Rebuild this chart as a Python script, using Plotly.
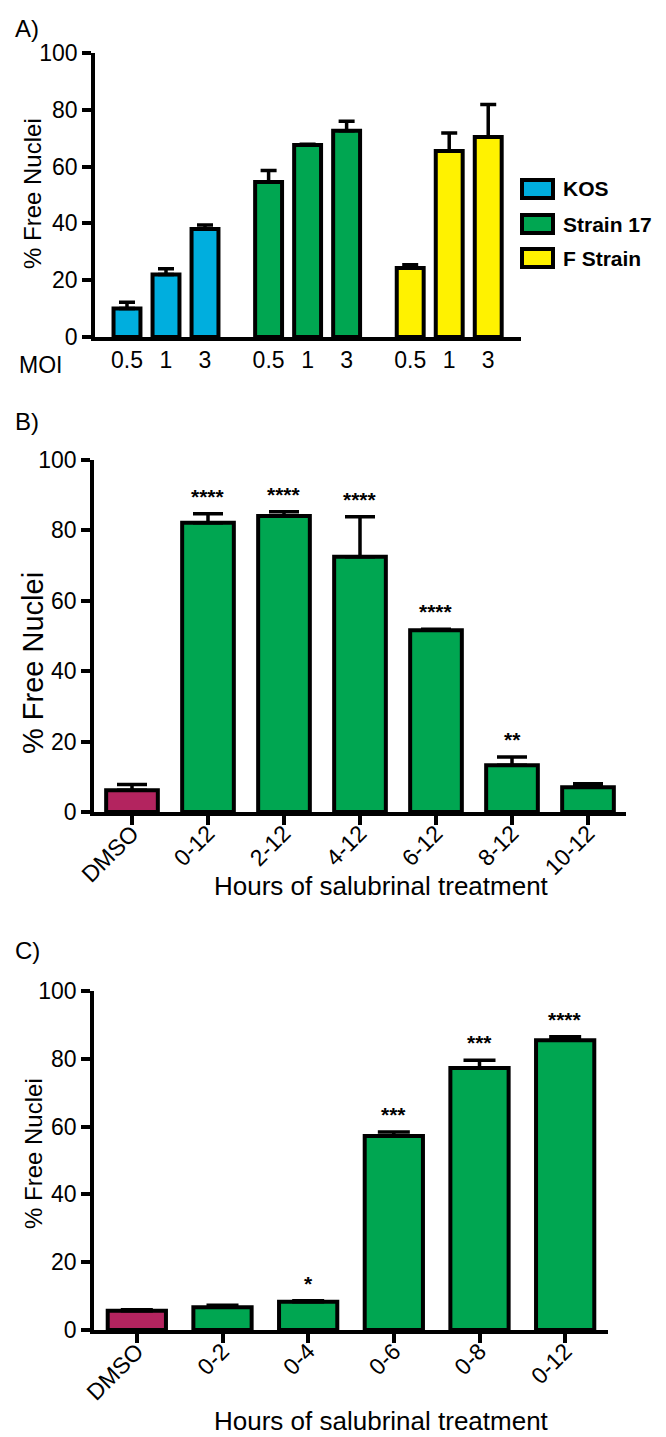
import plotly.graph_objects as go

W, H = 666, 1437
FONT = "Liberation Sans, Arial, Helvetica, sans-serif"

# ---------------- Panel A data ----------------
moi_labels = ["0.5", "1", "3"]
strain_names = ["KOS", "Strain 17", "F Strain"]
strain_colors = ["#00AEDE", "#00A651", "#FFF200"]
kos_mean = [10.0, 22.0, 38.0]
kos_err = [2.2, 2.0, 1.4]
s17_mean = [54.6, 67.6, 72.6]
s17_err = [4.0, 0.3, 3.4]
f_mean = [24.3, 65.5, 70.4]
f_err = [1.1, 6.3, 11.5]

# ---------------- Panel B data ----------------
b_categories = ["DMSO", "0-12", "2-12", "4-12", "6-12", "8-12", "10-12"]
b_mean = [6.2, 82.2, 84.1, 72.5, 51.6, 13.3, 7.0]
b_err = [1.6, 2.5, 1.2, 11.4, 0.3, 2.3, 1.0]
b_stars = ["", "****", "****", "****", "****", "**", ""]

# ---------------- Panel C data ----------------
c_categories = ["DMSO", "0-2", "0-4", "0-6", "0-8", "0-12"]
c_mean = [5.7, 6.7, 8.3, 57.2, 77.3, 85.5]
c_err = [0.3, 0.6, 0.3, 1.2, 2.3, 1.0]
c_stars = ["", "", "*", "***", "***", "****"]

dmso_color = "#B3245F"
green = "#00A651"

y_ticks = [0, 20, 40, 60, 80, 100]


def px_x(p):
    return p / W


def px_y(p):
    return 1 - p / H


fig = go.Figure()

# Panel A bars
group_gap = 3.63
a_means = [kos_mean, s17_mean, f_mean]
a_errs = [kos_err, s17_err, f_err]
a_tickvals, a_ticktext = [], []
for g, (name, col, m, e) in enumerate(zip(strain_names, strain_colors, a_means, a_errs)):
    xs = [g * group_gap + i for i in range(len(moi_labels))]
    a_tickvals += xs
    a_ticktext += moi_labels
    fig.add_trace(go.Bar(
        x=xs, y=m, name=name, xaxis="x", yaxis="y",
        width=0.69,
        marker=dict(color=col, line=dict(color="black", width=4)),
        error_y=dict(type="data", array=e, arrayminus=[0] * len(e), symmetric=False,
                     color="black", thickness=3.5, width=8),
        showlegend=False,
    ))

# Panel B bars
fig.add_trace(go.Bar(
    x=b_categories, y=b_mean, xaxis="x2", yaxis="y2", width=0.68,
    marker=dict(color=[dmso_color] + [green] * (len(b_categories) - 1),
                line=dict(color="black", width=4)),
    error_y=dict(type="data", array=b_err, arrayminus=[0] * len(b_err), symmetric=False,
                 color="black", thickness=3.5, width=15),
    showlegend=False,
))

# Panel C bars
fig.add_trace(go.Bar(
    x=c_categories, y=c_mean, xaxis="x3", yaxis="y3", width=0.68,
    marker=dict(color=[dmso_color] + [green] * (len(c_categories) - 1),
                line=dict(color="black", width=4)),
    error_y=dict(type="data", array=c_err, arrayminus=[0] * len(c_err), symmetric=False,
                 color="black", thickness=3.5, width=16),
    showlegend=False,
))

ann = []
star_font = dict(size=21, color="black", family=FONT)
# stars
for cat, m, e, s in zip(b_categories, b_mean, b_err, b_stars):
    if s:
        ann.append(dict(x=cat, y=m + e, xref="x2", yref="y2", text="<b>%s</b>" % s, showarrow=False,
                        yanchor="bottom", yshift=4, font=star_font))
for cat, m, e, s in zip(c_categories, c_mean, c_err, c_stars):
    if s:
        ann.append(dict(x=cat, y=m + e, xref="x3", yref="y3", text="<b>%s</b>" % s, showarrow=False,
                        yanchor="bottom", yshift=4, font=star_font))

# panel labels
for lab, yc in [("A)", 20), ("B)", 414), ("C)", 942)]:
    ann.append(dict(x=px_x(5), y=px_y(yc), xref="paper", yref="paper", text=lab, showarrow=False,
                    xanchor="left", yanchor="middle", font=dict(size=24, color="black", family=FONT)))

# y titles
for yc, fs in [(186, 24), (655, 29), (1146, 24)]:
    ann.append(dict(x=px_x(25), y=px_y(yc), xref="paper", yref="paper", text="% Free Nuclei",
                    showarrow=False, textangle=-90, xanchor="center", yanchor="middle",
                    font=dict(size=fs, color="black", family=FONT)))

# x titles
for yc in [878, 1413]:
    ann.append(dict(x=px_x(373), y=px_y(yc), xref="paper", yref="paper",
                    text="Hours of salubrinal treatment", showarrow=False,
                    xanchor="center", yanchor="middle",
                    font=dict(size=26, color="black", family=FONT)))

# MOI label
ann.append(dict(x=px_x(9), y=px_y(357), xref="paper", yref="paper", text="MOI", showarrow=False,
                xanchor="left", yanchor="middle", font=dict(size=23, color="black", family=FONT)))

# legend (panel A)
shapes = []
leg_rows = [181, 216, 250]
for name, col, yc in zip(strain_names, strain_colors, leg_rows):
    shapes.append(dict(type="rect", xref="paper", yref="paper",
                       x0=px_x(514), x1=px_x(545), y0=px_y(yc + 9), y1=px_y(yc - 9),
                       fillcolor=col, line=dict(color="black", width=4)))
    ann.append(dict(x=px_x(553), y=px_y(yc), xref="paper", yref="paper", text="<b>%s</b>" % name,
                    showarrow=False, xanchor="left", yanchor="middle",
                    font=dict(size=21, color="black", family=FONT)))

axis_common = dict(showgrid=False, zeroline=False, showline=True, linecolor="black", linewidth=3.5,
                   automargin=False, tickfont=dict(size=23, color="black", family=FONT))
yaxis_common = dict(axis_common, range=[0, 100], tickvals=y_ticks, ticks="outside", ticklen=9,
                    tickwidth=3.5, tickcolor="black", fixedrange=True)

fig.update_layout(
    width=W, height=H, autosize=False,
    margin=dict(l=0, r=0, t=0, b=0),
    paper_bgcolor="white", plot_bgcolor="white",
    font=dict(family=FONT, color="black"),
    barmode="overlay",
    xaxis=dict(axis_common, domain=[px_x(87), px_x(513)], range=[-0.82, 10.1],
               tickvals=a_tickvals, ticktext=a_ticktext, ticks="", ticklabelstandoff=0,
               anchor="y"),
    yaxis=dict(yaxis_common, domain=[px_y(329), px_y(45)], anchor="x"),
    xaxis2=dict(axis_common, domain=[px_x(86), px_x(618)], range=[-0.5, 6.5],
                type="category", tickangle=-45, ticks="outside", ticklen=9, tickwidth=3.5,
                tickcolor="black", ticklabelstandoff=-14, anchor="y2"),
    yaxis2=dict(yaxis_common, domain=[px_y(804), px_y(452)], anchor="x2"),
    xaxis3=dict(axis_common, domain=[px_x(86), px_x(600)], range=[-0.5, 5.5],
                type="category", tickangle=-45, ticks="outside", ticklen=9, tickwidth=3.5,
                tickcolor="black", ticklabelstandoff=-14, anchor="y3"),
    yaxis3=dict(yaxis_common, domain=[px_y(1322), px_y(983)], anchor="x3"),
    annotations=ann,
    shapes=shapes,
)

fig.write_html("out.html")
